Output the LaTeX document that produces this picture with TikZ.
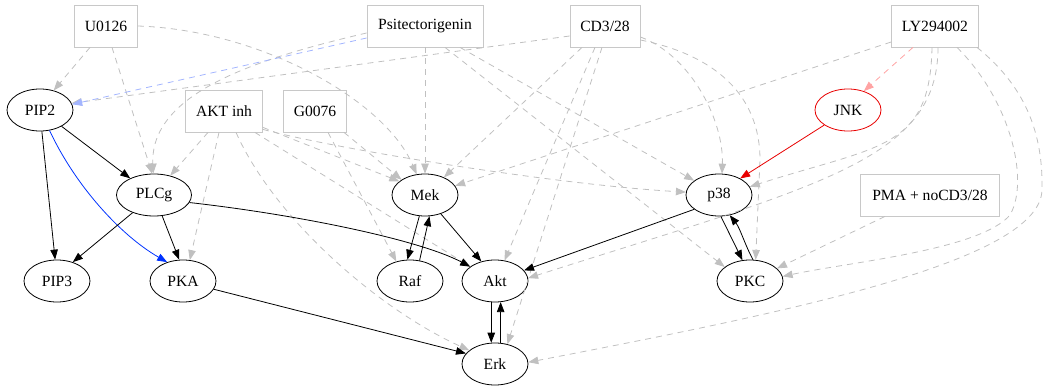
\documentclass[tikz,border=0pt]{standalone}
\usepackage{fontspec}
\setmainfont{Liberation Serif}
\usetikzlibrary{arrows.meta,shapes.geometric}
\definecolor{edgegray}{HTML}{C0C0C0}
\definecolor{boxgray}{HTML}{C8C8C8}
\definecolor{lblue}{HTML}{A3B5FF}
\definecolor{pinkish}{HTML}{FFA3A3}
\definecolor{gvblue}{HTML}{0033FF}
\definecolor{gvred}{HTML}{E80000}
\begin{document}
\begin{tikzpicture}[x=1pt,y=-1pt,
  every node/.style={font=\fontsize{15.6}{17}\selectfont},
  var/.style={draw=black,ellipse,minimum width=66pt,minimum height=42pt,inner sep=0pt,line width=0.8pt},
  intv/.style={draw=boxgray,rectangle,minimum height=42pt,inner sep=0pt,line width=0.8pt},
  arr/.style={-{Triangle[length=10pt,width=7.5pt]},line width=0.8pt},
  dep/.style={arr,draw=edgegray,dash pattern=on 6pt off 5pt},
  depblue/.style={arr,draw=lblue,dash pattern=on 6pt off 5pt},
  deppink/.style={arr,draw=pinkish,dash pattern=on 6pt off 5pt}]
\useasboundingbox (0,0) rectangle (1045,387);
% intervention boxes
\node[intv,minimum width=63pt] (U0126) at (106,26) {U0126};
\node[intv,minimum width=116pt] (Psi) at (425,26) {Psitectorigenin};
\node[intv,minimum width=70pt] (CD3) at (605,26) {CD3/28};
\node[intv,minimum width=87pt] (LY) at (935,26) {LY294002};
\node[intv,minimum width=77pt] (AKTinh) at (224,111) {AKT inh};
\node[intv,minimum width=63pt] (G0076) at (315,111) {G0076};
\node[intv,minimum width=139pt] (PMA) at (930,195) {PMA + noCD3/28};
% variables
\node[var] (PIP2) at (40,110) {PIP2};
\node[var,draw=gvred] (JNK) at (848,110) {JNK};
\node[var,minimum width=75pt] (PLCg) at (154,195) {PLCg};
\node[var] (Mek) at (425,195) {Mek};
\node[var] (p38) at (719,195) {p38};
\node[var] (PIP3) at (57,281) {PIP3};
\node[var] (PKA) at (183,281) {PKA};
\node[var] (Raf) at (410,281) {Raf};
\node[var] (Akt) at (495,281) {Akt};
\node[var] (PKC) at (750,281) {PKC};
\node[var] (Erk) at (495,364) {Erk};
% dashed intervention edges
\draw[dep] ([xshift=-16pt]U0126.south) -- (PIP2.55);
\draw[dep] ([xshift=6pt]U0126.south) -- (PLCg.95);
\draw[dep] (U0126.east) .. controls (260,30) and (385,100) .. (Mek.112);
\draw[dep] ([yshift=-7pt]Psi.west) .. controls (250,60) and (150,95) .. (PLCg.92);
\draw[dep] (Psi.south) -- (Mek.north);
\draw[dep] ([xshift=35pt]Psi.south) -- (p38.150);
\draw[dep] ([xshift=20pt]Psi.south) -- (PKC.151);
\draw[dep] ([yshift=-10pt]CD3.west) -- (PIP2.12);
\draw[depblue] ([yshift=-12pt]Psi.west) -- (PIP2.10);
\draw[dep] ([xshift=-23pt]CD3.south) -- (Mek.43);
\draw[dep] ([xshift=-10pt]CD3.south) -- (Akt.65);
\draw[dep] ([xshift=-3pt]CD3.south) -- (Erk.58);
\draw[dep] ([yshift=-11pt]CD3.east) .. controls (690,55) and (724,120) .. (p38.82);
\draw[dep] ([yshift=-14pt]CD3.east) .. controls (715,55) and (760,95) .. (760,160) -- (PKC.75);
\draw[deppink] ([xshift=-22pt]LY.south) -- (JNK.50);
\draw[dep] ([yshift=-16pt]LY.west) -- (Mek.17);
\draw[dep] ([xshift=-3pt]LY.south) .. controls (930,150) and (880,145) .. (p38.15);
\draw[dep] ([xshift=3pt]LY.south) .. controls (938,160) and (820,185) .. (Akt.5);
\draw[dep] ([xshift=22pt]LY.south) .. controls (1010,100) and (1030,180) .. (1010,215) .. controls (980,250) and (850,262) .. (PKC.8);
\draw[dep] ([xshift=42pt]LY.south) .. controls (1030,90) and (1043,140) .. (1042,190) .. controls (1040,260) and (800,310) .. (Erk.3);
\draw[dep] ([xshift=-16pt]AKTinh.south) -- (PLCg.50);
\draw[dep] ([xshift=-5pt]AKTinh.south) -- (PKA.72);
\draw[dep] ([xshift=12pt]AKTinh.south) .. controls (275,220) and (380,310) .. (Erk.152);
\draw[dep] ([xshift=-8pt]AKTinh.south east) -- (Akt.150);
\draw[dep] ([yshift=5pt]AKTinh.south east) -- (Mek.152);
\draw[dep] ([yshift=3pt]AKTinh.south east) .. controls (340,150) and (560,185) .. (p38.175);
\draw[dep] ([xshift=13pt]G0076.south) -- (Raf.125);
\draw[dep] ([xshift=29pt]G0076.south) -- (Mek.147);
\draw[dep] ([xshift=-45pt]PMA.south) -- (PKC.25);
% solid edges
\draw[arr] (PIP2) -- (PLCg.145);
\draw[arr] (PIP2.-85) -- (PIP3.95);
\draw[arr,draw=gvblue] (PIP2.-65) .. controls (75,185) and (120,235) .. (PKA.130);
\draw[arr] (PLCg) -- (PIP3.50);
\draw[arr] (PLCg) -- (PKA.100);
\draw[arr] (PLCg.-12) .. controls (300,215) and (420,240) .. (Akt.150);
\draw[arr] (Mek.-105) -- (Raf.97);
\draw[arr] (Raf.65) -- (Mek.-78);
\draw[arr] (Mek.-50) -- (Akt.125);
\draw[arr] (p38.-150) -- (Akt.20);
\draw[arr] (p38.-85) -- (PKC.110);
\draw[arr] (PKC.82) .. controls (745,245) and (740,228) .. (p38.-62);
\draw[arr] (Akt.-100) -- (Erk.100);
\draw[arr] (Erk.75) -- (Akt.-75);
\draw[arr] (PKA.-15) -- (Erk.160);
\draw[arr,draw=gvred] (JNK) -- (p38.38);
\end{tikzpicture}
\end{document}
